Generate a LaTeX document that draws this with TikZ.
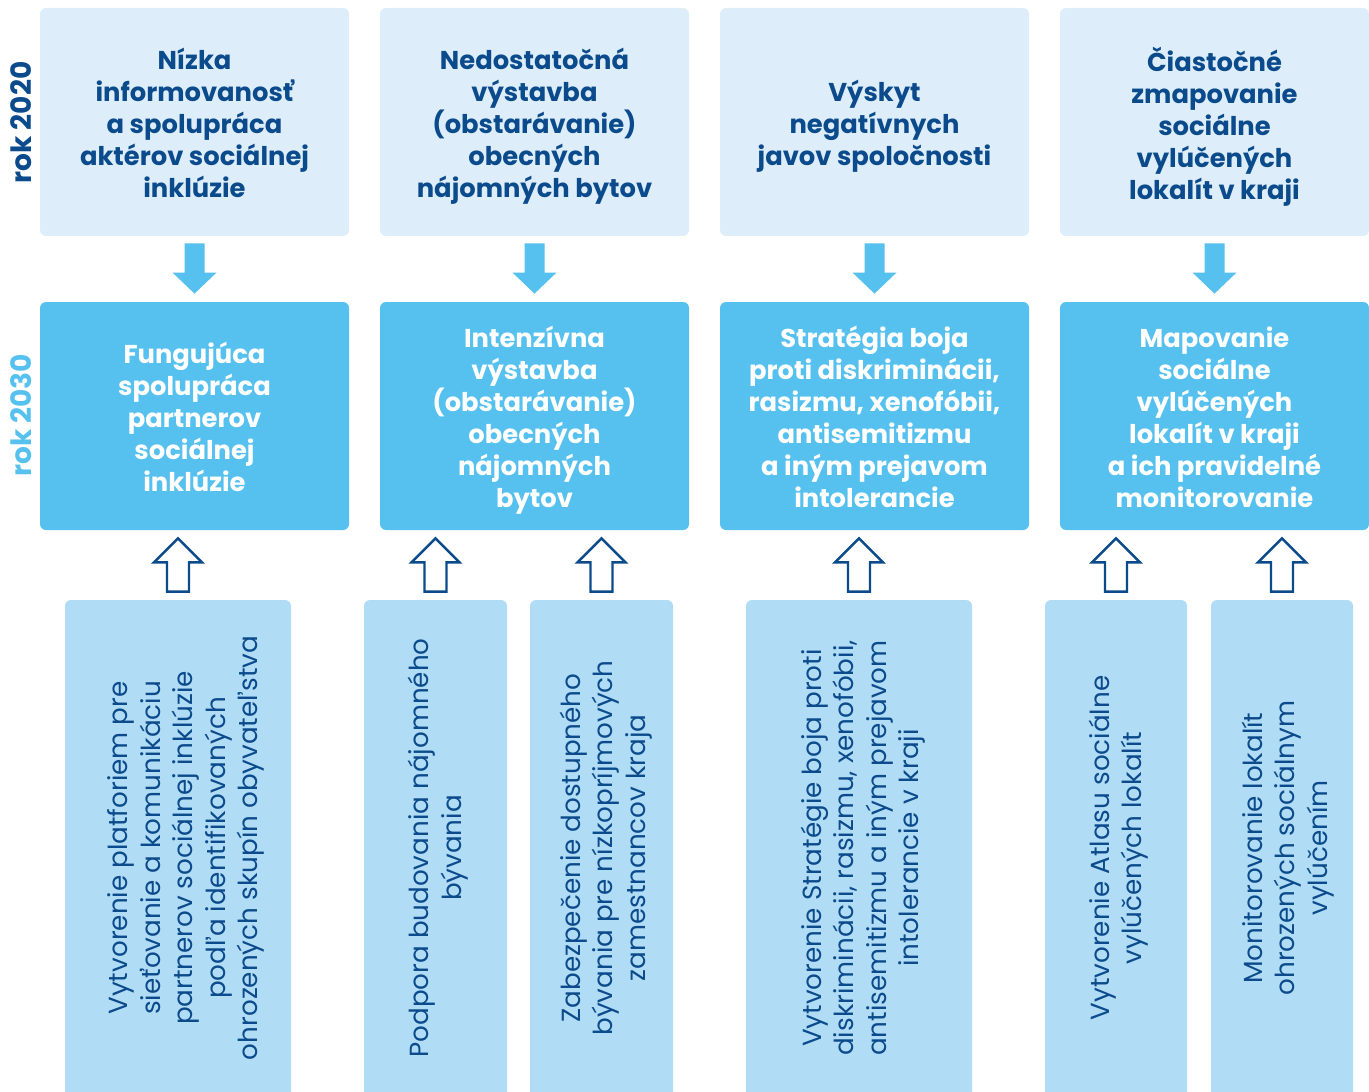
\documentclass[tikz,border=0pt]{standalone}
\usepackage{fontspec}
\setmainfont{Poppins}
\usetikzlibrary{calc}
\definecolor{topfill}{HTML}{DDEEFA}
\definecolor{midfill}{HTML}{56C1EE}
\definecolor{botfill}{HTML}{B1DCF5}
\definecolor{darkblue}{HTML}{0B4B8C}
\tikzset{
  boxbase/.style={rounded corners=3pt, minimum width=154.5pt, minimum height=114pt, inner sep=0pt},
  topbox/.style={boxbase, fill=topfill},
  midbox/.style={boxbase, fill=midfill},
  boxtext/.style={align=center, inner sep=0pt, font=\bfseries\fontsize{12.9}{16}\selectfont,
    execute at begin node=\strut, execute at end node=\strut},
  toptext/.style={boxtext, text=darkblue},
  midtext/.style={boxtext, text=white},
  botbox/.style={fill=botfill, rounded corners=3pt, minimum height=250pt, inner sep=0pt},
  bottext/.style={rotate=90, text=darkblue, align=center, inner sep=0pt, font=\fontsize{13.1}{16.2}\selectfont,
    execute at begin node=\strut, execute at end node=\strut},
  yearlbl/.style={rotate=90, inner sep=0pt, font=\bfseries\fontsize{14}{16}\selectfont},
  downarrow/.style={fill=midfill, draw=none},
  uparrow/.style={fill=white, draw=darkblue, line width=1.2pt, line join=miter}
}
\newcommand{\dnarr}[2]{%
  \path[downarrow] ($(#1.south)+(-10,7)$) -- ($(#1.south |- #2.north)+(-10,-29)$) -- ($(#1.south |- #2.north)+(-22,-29)$)
    -- ($(#1.south |- #2.north)+(0,-8)$) -- ($(#1.south |- #2.north)+(22,-29)$) -- ($(#1.south |- #2.north)+(10,-29)$)
    -- ($(#1.south)+(10,7)$) -- cycle;}
\newcommand{\uparr}[2]{%
  \draw[uparrow] ($(#1.north)+(-11,-8)$) -- ($(#1.north |- #2.south)+(-11,32)$) -- ($(#1.north |- #2.south)+(-24,32)$)
    -- ($(#1.north |- #2.south)+(0,8)$) -- ($(#1.north |- #2.south)+(24,32)$) -- ($(#1.north |- #2.south)+(11,32)$)
    -- ($(#1.north)+(11,-8)$) -- cycle;}
\begin{document}
\begin{tikzpicture}[x=0.5pt, y=-0.5pt]
\useasboundingbox (0,0) rectangle (1369,1091);
% year labels
\node[yearlbl, text=darkblue] (r20) at (21,122.5) {rok 2020};
\node[yearlbl, text=midfill] (r30) at (21,415.5) {rok 2030};
% top row
\node[topbox] (t1) at (194.5,122) {};
\node[topbox] (t2) at (534.5,122) {};
\node[topbox] (t3) at (874.5,122) {};
\node[topbox] (t4) at (1214.5,122) {};
\node[toptext] (t1t) at ($(t1)+(0,6)$) {Nízka\\informovanosť\\a spolupráca\\aktérov sociálnej\\inklúzie};
\node[toptext] (t2t) at ($(t2)+(0,6)$) {Nedostatočná\\výstavba\\(obstarávanie)\\obecných\\nájomných bytov};
\node[toptext] (t3t) at ($(t3)+(0,6)$) {Výskyt\\negatívnych\\javov spoločnosti};
\node[toptext] (t4t) at ($(t4)+(0,6)$) {Čiastočné\\zmapovanie\\sociálne\\vylúčených\\lokalít v kraji};
% middle row
\node[midbox] (m1) at (194.5,416) {};
\node[midbox] (m2) at (534.5,416) {};
\node[midbox] (m3) at (874.5,416) {};
\node[midbox] (m4) at (1214.5,416) {};
\node[midtext] (m1t) at ($(m1)+(0,6)$) {Fungujúca\\spolupráca\\partnerov\\sociálnej\\inklúzie};
\node[midtext] (m2t) at ($(m2)+(0,6)$) {Intenzívna\\výstavba\\(obstarávanie)\\obecných\\nájomných\\bytov};
\node[midtext] (m3t) at ($(m3)+(0,6)$) {Stratégia boja\\proti diskriminácii,\\rasizmu, xenofóbii,\\antisemitizmu\\a iným prejavom\\intolerancie};
\node[midtext] (m4t) at ($(m4)+(0,6)$) {Mapovanie\\sociálne\\vylúčených\\lokalít v kraji\\a ich pravidelné\\monitorovanie};
% bottom row
\node[botbox, minimum width=113pt] (b1) at (178,850) {};
\node[botbox, minimum width=71.5pt] (b2) at (435.5,850) {};
\node[botbox, minimum width=71.5pt] (b3) at (601.5,850) {};
\node[botbox, minimum width=113pt] (b4) at (859,850) {};
\node[botbox, minimum width=71pt] (b5) at (1116,850) {};
\node[botbox, minimum width=71pt] (b6) at (1282,850) {};
\node[bottext] (b1t) at ($(b1)+(9.5,-2)$) {Vytvorenie platforiem pre\\sieťovanie a komunikáciu\\partnerov sociálnej inklúzie\\podľa identifikovaných\\ohrozených skupín obyvateľstva};
\node[bottext] (b2t) at ($(b2)+(4,-2)$) {Podpora budovania nájomného\\bývania};
\node[bottext] (b3t) at ($(b3)+(6,-2)$) {Zabezpečenie dostupného\\bývania pre nízkopríjmových\\zamestnancov kraja};
\node[bottext] (b4t) at ($(b4)+(5.5,-2)$) {Vytvorenie Stratégie boja proti\\diskriminácii, rasizmu, xenofóbii,\\antisemitizmu a iným prejavom\\intolerancie v kraji};
\node[bottext] (b5t) at ($(b5)+(4,-2)$) {Vytvorenie Atlasu sociálne\\vylúčených lokalít};
\node[bottext] (b6t) at ($(b6)+(7.5,-2)$) {Monitorovanie lokalít\\ohrozených sociálnym\\vylúčením};
% arrows
\dnarr{t1}{m1}
\dnarr{t2}{m2}
\dnarr{t3}{m3}
\dnarr{t4}{m4}
\uparr{b1}{m1}
\uparr{b2}{m2}
\uparr{b3}{m2}
\uparr{b4}{m3}
\uparr{b5}{m4}
\uparr{b6}{m4}
\end{tikzpicture}
\end{document}
